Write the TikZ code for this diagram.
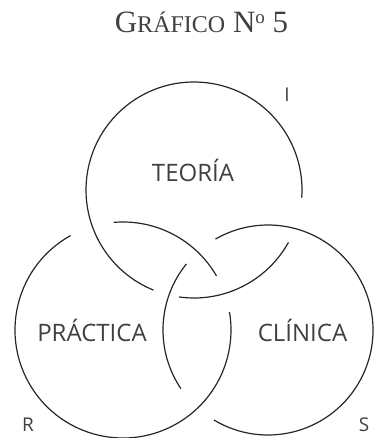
\documentclass[tikz,border=0pt]{standalone}
\usepackage{fontspec}
\newfontfamily\labelfont{Open Sans}
\newfontfamily\headfont{Liberation Serif}
\begin{document}
\begin{tikzpicture}[x=1pt,y=1pt,
  ring/.style={line width=1.2pt, draw=black!85},
  lbl/.style={font=\labelfont\fontsize{24}{28}\selectfont, text=black!75, inner sep=0pt, anchor=base},
  corner/.style={font=\labelfont\fontsize{19}{22}\selectfont, text=black!75, inner sep=0pt, anchor=base},
  heading/.style={font=\headfont\fontsize{31}{36}\selectfont, text=black!75, inner sep=0pt, anchor=base}]
\useasboundingbox (0,0) rectangle (373,438);

% circle centres
\coordinate (cL) at (123,108);
\coordinate (cR) at (268,108);
\coordinate (cT) at (194,248);

% interlaced rings: each arc stops where it passes under another ring
\draw[ring] (cL) ++(30:108)  arc[start angle=30,  end angle=95,  radius=108];
\draw[ring] (cL) ++(119:108) arc[start angle=119, end angle=369.5, radius=108];
\draw[ring] (cR) ++(141:105) arc[start angle=141, end angle=214, radius=105];
\draw[ring] (cR) ++(239:105) arc[start angle=239, end angle=480, radius=105];
\draw[ring] (cT) ++(262:108) arc[start angle=262, end angle=331, radius=108];
\draw[ring] (cT) ++(356:108) arc[start angle=356, end angle=608, radius=108];

% labels
\node[heading] (title) at (201.5,405)
  {G{\fontsize{24}{28}\selectfont RÁFICO} N\raisebox{9.5pt}{\fontsize{19}{19}\selectfont o} 5};
\node[lbl] (teoria) at (193,256.5) {TEORÍA};
\node[lbl] (practica) at (92,96.5) {PRÁCTICA};
\node[lbl] (clinica) at (302.5,96.5) {CLÍNICA};
\node[corner] (i) at (287,336) {I};
\node[corner] (r) at (28,6) {R};
\node[corner] (s) at (364,6) {S};
\end{tikzpicture}
\end{document}
